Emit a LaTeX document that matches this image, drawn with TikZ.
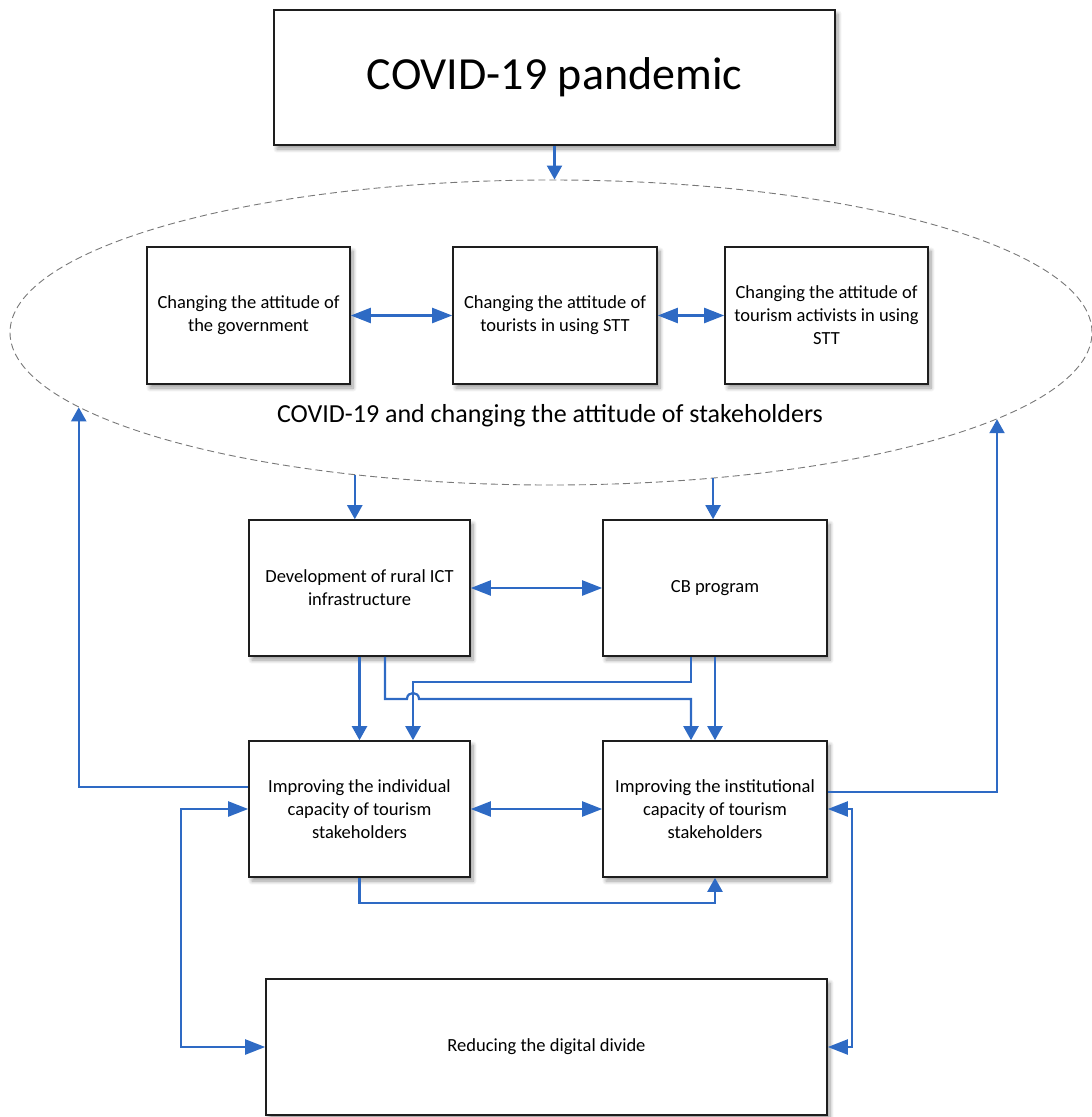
\documentclass[tikz,border=0pt]{standalone}
\usepackage{fontspec}
\setmainfont{Carlito}
\usetikzlibrary{arrows.meta,calc,shapes.geometric,shadows.blur}

\definecolor{linkblue}{RGB}{46,106,196}
\definecolor{boxline}{RGB}{30,30,30}
\definecolor{ringgray}{RGB}{120,120,120}

\begin{document}
\begin{tikzpicture}[x=1pt,y=-1pt,
  box/.style={draw=boxline, line width=1.6pt, fill=white, align=center,
    inner sep=4pt, font=\fontsize{18.5}{23}\selectfont,
    blur shadow={shadow xshift=3pt, shadow yshift=-4pt, shadow blur steps=8,
      shadow blur radius=4pt}},
  link/.style={draw=linkblue, line width=2.2pt, -{Triangle[length=14pt,width=15pt]}},
  dlink/.style={draw=linkblue, line width=2.2pt,
    {Triangle[length=20pt,width=15pt]}-{Triangle[length=20pt,width=15pt]}},
]
\useasboundingbox (0,0) rectangle (1092,1117);

% stakeholder ring
\node[ellipse, draw=ringgray, line width=0.9pt, dash pattern=on 7pt off 4pt,
      minimum width=1082pt, minimum height=305pt, inner sep=0pt] (ell) at (551,332.5) {};
\node[font=\fontsize{26}{30}\selectfont] (elllabel) at (550,416)
  {COVID-19 and changing the attitude of stakeholders};

% boxes
\node[box, minimum width=561pt, minimum height=135pt, font=\fontsize{46}{52}\selectfont]
  (top) at (554.5,77.5) {COVID-19 pandemic};

\node[box, minimum width=203pt, minimum height=137pt] (gov) at (248.5,315.5)
  {Changing the attitude of\\the government};
\node[box, minimum width=204pt, minimum height=137pt] (tour) at (555,315.5)
  {Changing the attitude of\\tourists in using STT};
\node[box, minimum width=203pt, minimum height=137pt] (act) at (826.5,315.5)
  {Changing the attitude of\\tourism activists in using\\STT};

\node[box, minimum width=221pt, minimum height=136pt] (ict) at (359.5,588)
  {Development of rural ICT\\infrastructure};
\node[box, minimum width=224pt, minimum height=136pt] (cb) at (715,588)
  {CB program};

\node[box, minimum width=221pt, minimum height=136pt] (ind) at (359.5,809)
  {Improving the individual\\capacity of tourism\\stakeholders};
\node[box, minimum width=224pt, minimum height=136pt] (inst) at (715,809)
  {Improving the institutional\\capacity of tourism\\stakeholders};

\node[box, minimum width=561pt, minimum height=136pt] (gap) at (546.5,1047)
  {Reducing the digital divide};

% helper levels for routed connectors
\coordinate (lvA) at (0,682);
\coordinate (lvB) at (0,699);
\coordinate (lvC) at (0,903);
\coordinate (xL) at (181,0);
\coordinate (xR) at (852,0);

% connectors
\draw[link] (top.south) -- (top.south |- ell.north);
\draw[dlink] (gov.east) -- (tour.west);
\draw[dlink] (tour.east) -- (act.west);

\draw[link] (ell.216.76) -- (ell.216.76 |- ict.north);
\draw[link] (ell.318.65) -- (ell.318.65 |- cb.north);

\draw[dlink] (ict.east) -- (cb.west);
\draw[link] (ict.south) -- (ind.north);
\draw[link] (cb.south) -- (inst.north);

\draw[link] ($(cb.south)+(-24,0)$) coordinate (c1) -- (c1 |- lvA)
  -| ($(ind.north)+(53.5,0)$);
\draw[link] ($(ict.south)+(25.5,0)$) coordinate (i1) -- (i1 |- lvB)
  -- ($(ind.north |- lvB)+(47.5,0)$) coordinate (h1)
  .. controls +(0,-8) and +(0,-8) .. ($(h1)+(12,0)$)
  -| ($(inst.north)+(-24,0)$);

\draw[dlink] (ind.east) -- (inst.west);

\draw[link] ($(ind.west)+(0,-22)$) -| (ell.189.44);
\draw[link] ($(inst.east)+(0,-17)$) -| (ell.349.8);

\draw[link] (ind.south) -- (ind.south |- lvC) -| (inst.south);

\draw[dlink] (ind.west) -- (ind.west -| xL) -- (xL |- gap.west) -- (gap.west);
\draw[dlink] (inst.east) -- (inst.east -| xR) -- (xR |- gap.east) -- (gap.east);
\end{tikzpicture}
\end{document}
